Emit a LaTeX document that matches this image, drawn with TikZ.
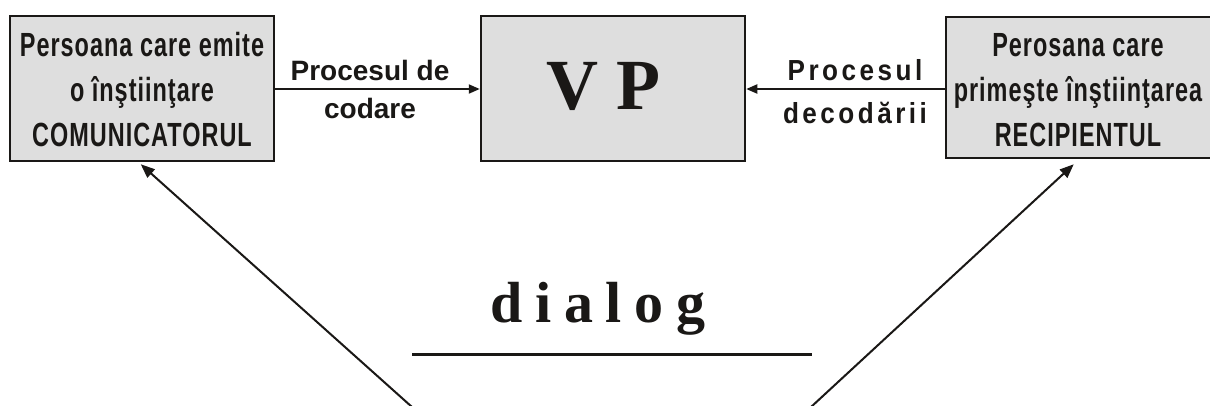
\documentclass[tikz,border=0pt]{standalone}
\usepackage{fontspec}
\setmainfont{Liberation Serif}
\newfontfamily\nbfont{Liberation Sans}[FakeStretch=0.7,LetterSpace=3]
\newfontfamily\lspfont{Liberation Sans}[FakeStretch=0.9,LetterSpace=12]
\newfontfamily\plainsans{Liberation Sans}
\newfontfamily\dlgfont{Liberation Serif}[LetterSpace=22]
\usetikzlibrary{arrows.meta}
\definecolor{boxgray}{HTML}{DEDEDE}
\definecolor{ink}{HTML}{1A1816}
\begin{document}
\begin{tikzpicture}[x=1pt,y=-1pt,
  box/.style={draw=ink, line width=2.5pt, fill=boxgray, inner sep=0pt},
  boxtext/.style={font=\nbfont\bfseries\fontsize{33.5}{45}\selectfont, align=center, text=ink},
  lbl/.style={align=center, text=ink},
  conn/.style={draw=ink, line width=2pt, -{Triangle[length=11pt,width=9pt]}},
  diag/.style={draw=ink, line width=2pt, -{Triangle[length=14pt,width=11pt]}}]
\path[use as bounding box, clip] (0,0) rectangle (1210,405);
\fill[white] (0,0) rectangle (1210,405);

% boxes
\node[box, minimum width=264pt, minimum height=145pt] (L) at (142,88.5) {};
\node[boxtext] (Lt) at (142,90) {Persoana care emite\\o înştiinţare\\COMUNICATORUL};

\node[box, minimum width=264pt, minimum height=145pt] (VP) at (613,88.5) {};
\node[text=ink, font=\bfseries\fontsize{72}{72}\selectfont] (VPt) at (603.5,86) {V P};

\node[box, minimum width=272pt, minimum height=141pt] (R) at (1082,87.5) {};
\node[boxtext] (Rt) at (1078,90) {Perosana care\\primeşte înştiinţarea\\RECIPIENTUL};

% horizontal connectors
\draw[conn] (L.east |- 0,89) -- (VP.west |- 0,89);
\draw[conn] (R.west |- 0,89) -- (VP.east |- 0,89);

\node[lbl, font=\plainsans\bfseries\fontsize{28}{38}\selectfont] (lc) at (370,89) {Procesul de\\codare};
\node[lbl, font=\lspfont\bfseries\fontsize{29}{43}\selectfont] (ld) at (855,92) {Procesul\\decodării};

% dialog
\node[text=ink, font=\dlgfont\bfseries\fontsize{58}{58}\selectfont] (dlg) at (598,309) {dialog};
\coordinate (ul) at (412,354);
\coordinate (ur) at (812,354);
\draw[ink, line width=3pt] (ul) -- (ur);

% diagonal connectors
\coordinate (bl) at (412,407);
\coordinate (br) at (811,407);
\draw[diag] (bl) -- ([xshift=132pt,yshift=-2pt]L.south west);
\draw[diag] (br) -- ([xshift=129pt,yshift=-5pt]R.south west);
\end{tikzpicture}
\end{document}
